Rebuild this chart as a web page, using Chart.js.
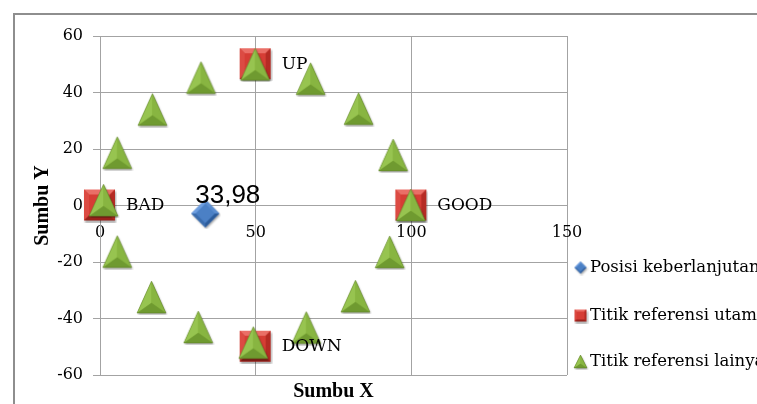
<!DOCTYPE html>
<html>
<head>
<meta charset="utf-8">
<script src="https://cdn.jsdelivr.net/npm/chart.js@4/dist/chart.umd.min.js"></script>
<style>
  html, body { margin: 0; padding: 0; background: #fff; overflow: hidden; }
  #c { display: block; }
</style>
</head>
<body>
<canvas id="c" width="757" height="404"></canvas>
<script>
// Series names (legend order)
const seriesNames = ['Posisi keberlanjutan', 'Titik referensi utama', 'Titik referensi lainya'];

// Sustainability position
const posX = [33.98];
const posY = [-3];

// Main reference points and their labels
const refX = [0, 100, 50, 50];
const refY = [0, 0, 50, -50];
const refLabels = ['BAD', 'GOOD', 'UP', 'DOWN'];

// Other reference points
const otherX = [1.3, 5.7, 17.0, 32.6, 50, 67.8, 83.2, 94.3, 100, 93.2, 82.2, 66.4, 49.4, 31.7, 16.7, 5.7];
const otherY = [1.7, 18.5, 33.8, 45.1, 49.8, 44.7, 34.1, 17.7, 0, -16.6, -32.3, -43.4, -48.7, -43.2, -32.6, -16.5];

// Axis ticks and titles
const xTicks = [0, 50, 100, 150];
const yTicks = [-60, -40, -20, 0, 20, 40, 60];
const xTitle = 'Sumbu X';
const yTitle = 'Sumbu Y';

const SERIF = "'DejaVu Serif', 'Liberation Serif', serif";
const GRID = '#a3a3a3';

// ---- bevelled marker images ----
function facet(g, pts, color) {
  g.beginPath();
  g.moveTo(pts[0][0], pts[0][1]);
  for (let i = 1; i < pts.length; i++) g.lineTo(pts[i][0], pts[i][1]);
  g.closePath();
  g.fillStyle = color;
  g.fill();
}

function squareMarker(s, bevel) {
  const c = document.createElement('canvas');
  c.width = s + 3; c.height = s + 3;
  const g = c.getContext('2d');
  const x0 = 1, y0 = 1, x1 = s + 1, y1 = s + 1;
  g.save();
  g.shadowColor = 'rgba(0,0,0,0.35)'; g.shadowBlur = 2; g.shadowOffsetX = 1; g.shadowOffsetY = 1.5;
  facet(g, [[x0, y0], [x1, y0], [x1, y1], [x0, y1]], '#c8332c');
  g.restore();
  const b = bevel;
  facet(g, [[x0, y0], [x1, y0], [x1 - b, y0 + b], [x0 + b, y0 + b]], '#ea6f67');
  facet(g, [[x0, y0], [x0 + b, y0 + b], [x0 + b, y1 - b], [x0, y1]], '#dc4b43');
  facet(g, [[x1, y0], [x1, y1], [x1 - b, y1 - b], [x1 - b, y0 + b]], '#b52b24');
  facet(g, [[x0, y1], [x0 + b, y1 - b], [x1 - b, y1 - b], [x1, y1]], '#9a211b');
  facet(g, [[x0 + b, y0 + b], [x1 - b, y0 + b], [x1 - b, y1 - b], [x0 + b, y1 - b]], '#d63d35');
  return c;
}

function triangleMarker(w, h) {
  const c = document.createElement('canvas');
  c.width = w + 3; c.height = h + 3;
  const g = c.getContext('2d');
  const A = [w / 2 + 1, 1], L = [1, h + 1], R = [w + 1, h + 1];
  const M = [w / 2 + 1, 1 + h * 0.68];
  g.save();
  g.shadowColor = 'rgba(0,0,0,0.35)'; g.shadowBlur = 2; g.shadowOffsetX = 1; g.shadowOffsetY = 1.5;
  facet(g, [A, R, L], '#86b33f');
  g.restore();
  facet(g, [A, L, M], '#97c450');
  facet(g, [A, R, M], '#88b541');
  facet(g, [L, R, M], '#6f9a30');
  g.strokeStyle = 'rgba(85,115,35,0.55)';
  g.lineWidth = 0.8;
  g.beginPath(); g.moveTo(A[0], A[1]); g.lineTo(R[0], R[1]); g.lineTo(L[0], L[1]); g.closePath(); g.stroke();
  return c;
}

function diamondMarker(s) {
  const c = document.createElement('canvas');
  c.width = s + 3; c.height = s + 3;
  const g = c.getContext('2d');
  const m = s / 2 + 1;
  const T = [m, 1], Rt = [s + 1, m], B = [m, s + 1], Lf = [1, m];
  const k = s * 0.16;
  const t = [m, 1 + k], r = [s + 1 - k, m], bb = [m, s + 1 - k], l = [1 + k, m];
  g.save();
  g.shadowColor = 'rgba(0,0,0,0.35)'; g.shadowBlur = 2; g.shadowOffsetX = 1; g.shadowOffsetY = 1.5;
  facet(g, [T, Rt, B, Lf], '#4a7fc3');
  g.restore();
  facet(g, [Lf, T, t, l], '#6d9ee0');
  facet(g, [T, Rt, r, t], '#5a8dd0');
  facet(g, [Rt, B, bb, r], '#2c5b9a');
  facet(g, [B, Lf, l, bb], '#3a6cad');
  facet(g, [t, r, bb, l], '#4b80c5');
  return c;
}

const markers = [diamondMarker(28), squareMarker(31, 5), triangleMarker(29, 32)];
const legendMarkers = [diamondMarker(12), squareMarker(12, 2), triangleMarker(13, 13)];

const toPoints = (xs, ys) => xs.map((x, i) => ({ x: x, y: ys[i] }));
const fixedTicks = vals => scale => { scale.ticks = vals.map(v => ({ value: v })); };

// ---- outer frame of the chart (top and left edges) ----
const chartFrame = {
  id: 'chartFrame',
  beforeDraw(chart) {
    const ctx = chart.ctx;
    ctx.save();
    ctx.strokeStyle = '#8e8e8e';
    ctx.lineWidth = 2;
    ctx.beginPath();
    ctx.moveTo(chart.width + 5, 14);
    ctx.lineTo(14, 14);
    ctx.lineTo(14, chart.height + 5);
    ctx.stroke();
    ctx.restore();
  }
};

// ---- labels on points ----
const pointLabels = {
  id: 'pointLabels',
  afterDatasetsDraw(chart) {
    const ctx = chart.ctx;
    ctx.save();
    ctx.fillStyle = '#000';
    ctx.textBaseline = 'middle';
    ctx.textAlign = 'left';
    ctx.font = '17px ' + SERIF;
    chart.getDatasetMeta(1).data.forEach((pt, i) => {
      ctx.fillText(refLabels[i], pt.x + 26, pt.y);
    });
    ctx.textAlign = 'center';
    ctx.font = "26px 'Liberation Sans', Arial, sans-serif";
    chart.getDatasetMeta(0).data.forEach((pt, i) => {
      const txt = posX[i].toFixed(2).replace('.', ',');
      ctx.fillText(txt, pt.x + 22, pt.y - 18);
    });
    ctx.restore();
  }
};

// ---- legend at the right ----
const sideLegend = {
  id: 'sideLegend',
  afterDraw(chart) {
    const ctx = chart.ctx;
    const rows = [268, 316, 362];
    ctx.save();
    ctx.font = '16.5px ' + SERIF;
    ctx.fillStyle = '#000';
    ctx.textBaseline = 'middle';
    ctx.textAlign = 'left';
    chart.data.datasets.forEach((ds, i) => {
      const m = legendMarkers[i];
      ctx.drawImage(m, 581 - m.width / 2, rows[i] - m.height / 2);
      ctx.fillText(ds.label, 590, rows[i]);
    });
    ctx.restore();
  }
};

new Chart(document.getElementById('c'), {
  type: 'scatter',
  data: {
    datasets: [
      { label: seriesNames[0], data: toPoints(posX, posY), pointStyle: markers[0], pointRadius: 14, order: 0, clip: false },
      { label: seriesNames[1], data: toPoints(refX, refY), pointStyle: markers[1], pointRadius: 15, order: 2, clip: false },
      { label: seriesNames[2], data: toPoints(otherX, otherY), pointStyle: markers[2], pointRadius: 14, order: 1, clip: false }
    ]
  },
  options: {
    responsive: false,
    animation: false,
    devicePixelRatio: 1,
    events: [],
    layout: { padding: { left: 0, top: 36, right: 190, bottom: 0 } },
    plugins: { legend: { display: false }, tooltip: { enabled: false } },
    scales: {
      x: {
        type: 'linear', position: 'bottom', min: 0, max: 150,
        afterBuildTicks: fixedTicks(xTicks),
        ticks: { display: false },
        grid: { color: GRID, lineWidth: 1, drawTicks: false },
        border: { display: false },
        title: { display: true, text: xTitle, color: '#000',
                 font: { family: "'Liberation Serif', serif", size: 20, weight: 'bold' },
                 padding: { top: 0, bottom: 0 } },
        afterFit: s => { s.height = 29; }
      },
      xMid: {
        type: 'linear', axis: 'x', position: { y: 0 }, min: 0, max: 150,
        afterBuildTicks: fixedTicks(xTicks),
        ticks: { color: '#000', padding: 18, font: { family: SERIF, size: 16 } },
        grid: { display: false, drawTicks: false },
        border: { display: false }
      },
      y: {
        type: 'linear', position: 'left', min: -60, max: 60,
        afterBuildTicks: fixedTicks(yTicks),
        ticks: { color: '#000', padding: 10, font: { family: SERIF, size: 16 } },
        grid: { color: GRID, lineWidth: 1, tickLength: 7 },
        border: { color: GRID },
        title: { display: true, text: yTitle, color: '#000',
                 font: { family: "'Liberation Serif', serif", size: 20, weight: 'bold' },
                 padding: { top: 31, bottom: 0 } },
        afterFit: s => { s.width = 100; }
      }
    }
  },
  plugins: [chartFrame, pointLabels, sideLegend]
});
</script>
</body>
</html>
